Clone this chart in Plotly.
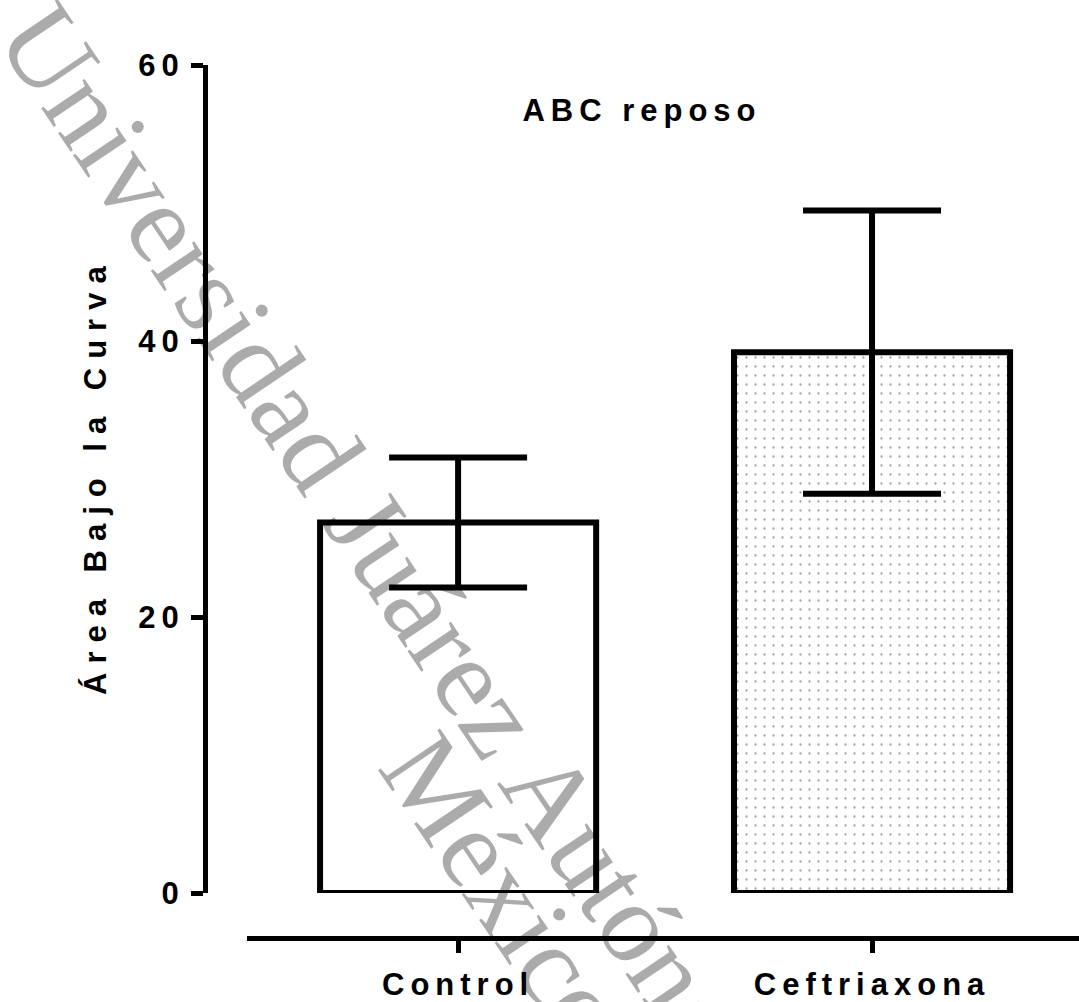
import plotly.graph_objects as go

categories = ["Control", "Ceftriaxona"]
means = [26.85, 39.19]
errors = [4.71, 10.26]
y_ticks = [0, 20, 40, 60]
title_text = "ABC reposo"
y_title = "Área Bajo la Curva"
watermark_1 = "Universidad Juárez Autónoma"
watermark_2 = "México"

W, H = 1079, 1002
FONT = "Liberation Sans, Arial, sans-serif"
SERIF = "Liberation Serif, Times New Roman, serif"
WM_COLOR = "rgba(0,0,0,0.33)"

fig = go.Figure()
fig.add_trace(go.Bar(
    x=[0, 1],
    y=means,
    width=0.667,
    marker=dict(
        color=["white", "white"],
        line=dict(color="black", width=6),
        pattern=dict(shape=["", "."], fgcolor="#9a9a9a", bgcolor="white",
                     size=9, solidity=0.05),
    ),
    error_y=dict(type="data", array=errors, visible=True,
                 color="black", thickness=6, width=69),
    showlegend=False,
))

fig.update_layout(
    width=W, height=H,
    margin=dict(l=0, r=0, t=0, b=0, autoexpand=False),
    paper_bgcolor="white", plot_bgcolor="white",
    title=dict(text=title_text, x=642 / W, y=1 - 110 / H,
               xanchor="center", yanchor="middle",
               font=dict(family=FONT, size=31, color="black", weight=700)),
    xaxis=dict(
        domain=[247 / W, 1], anchor="free", position=1 - 938 / H,
        range=[-0.51, 1.5], tickvals=[0, 1], ticktext=categories,
        showline=True, linecolor="black", linewidth=4.5,
        ticks="outside", ticklen=12, tickwidth=4.5, tickcolor="black",
        showgrid=False, zeroline=False, automargin=False,
        tickfont=dict(family=FONT, size=31, color="black", weight=700),
        ticklabelstandoff=5,
    ),
    yaxis=dict(
        domain=[1 - 893 / H, 1 - 65 / H], anchor="free", position=205 / W,
        range=[0, 60], tickvals=y_ticks,
        showline=True, linecolor="black", linewidth=5,
        ticks="outside", ticklen=12, tickwidth=5, tickcolor="black",
        showgrid=False, zeroline=False, automargin=False,
        tickfont=dict(family=FONT, size=31, color="black", weight=700),
    ),
    annotations=[
        dict(text=y_title, x=95 / W, y=1 - 476 / H, xref="paper", yref="paper",
             xanchor="center", yanchor="middle", showarrow=False, textangle=-90,
             font=dict(family=FONT, size=31, color="black", weight=700)),
        dict(text=watermark_1, x=412 / W, y=1 - 588 / H, xref="paper", yref="paper",
             xanchor="center", yanchor="middle", showarrow=False, textangle=56,
             font=dict(family=SERIF, size=114, color=WM_COLOR)),
        dict(text=watermark_2, x=506 / W, y=1 - 890 / H, xref="paper", yref="paper",
             xanchor="center", yanchor="middle", showarrow=False, textangle=56,
             font=dict(family=SERIF, size=114, color=WM_COLOR)),
    ],
)

post = ("var s=document.createElement('style');"
        "s.innerHTML='.xtick text,.ytick text,.gtitle{letter-spacing:6px}"
        " .annotation[data-index=\"0\"] text{letter-spacing:9px}';"
        "document.head.appendChild(s);")

fig.write_html("out.html", post_script=post)
